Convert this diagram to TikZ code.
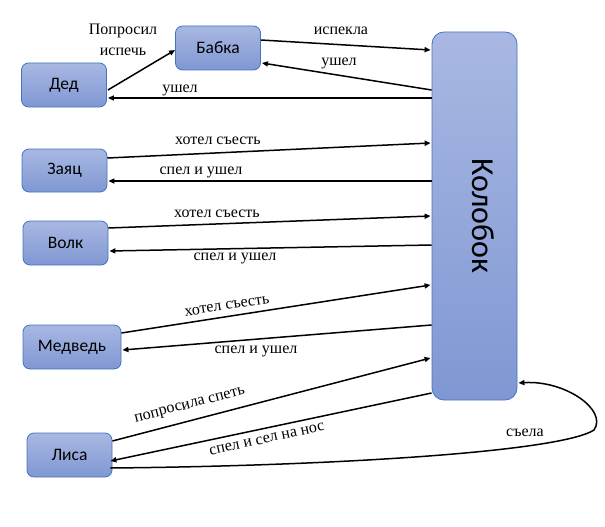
\documentclass[tikz,border=0pt]{standalone}
\usepackage{fontspec}
\setmainfont{Liberation Serif}
\newfontfamily\nodefont{Carlito}
\usetikzlibrary{calc,arrows.meta}
\definecolor{boxtop}{HTML}{A9B8E2}
\definecolor{boxbot}{HTML}{7F97D3}
\definecolor{boxedge}{HTML}{4472C4}
\tikzset{
  box/.style={draw=boxedge, line width=0.8pt, rounded corners=7pt, top color=boxtop, bottom color=boxbot,
    minimum width=85pt, minimum height=44pt, inner sep=0pt, font=\nodefont\fontsize{17.5}{20}\selectfont},
  arr/.style={-{Triangle[length=6pt,width=5pt]}, line width=1.5pt},
  lbl/.style={font=\fontsize{16}{18}\selectfont, inner sep=0pt}
}
\begin{document}
\begin{tikzpicture}[x=1pt,y=-1pt]
\useasboundingbox (0,0) rectangle (605,527);
\node[box] (ded) at (64,85) {Дед};
\node[box] (babka) at (218,48) {Бабка};
\node[box, minimum height=368pt, rounded corners=12pt] (kol) at (474.5,216) {};
\node[font=\nodefont\fontsize{32}{36}\selectfont, rotate=-90] (koltext) at ($(kol.center)+(9,0)$) {Колобок};
\node[box, minimum height=43pt] (zayac) at (64.5,170.5) {Заяц};
\node[box] (volk) at (65.5,243) {Волк};
\node[box, minimum width=98pt] (medv) at (72,347) {Медведь};
\node[box] (lisa) at (69.5,455) {Лиса};

% Дед -> Бабка
\draw[arr] ($(ded.east)+(1,5)$) -- ($(babka.west)+(0,2)$);
\node[lbl, align=center] (l1) at (123,40) {Попросил\\[3pt]испечь};
% Бабка <-> Колобок
\draw[arr] ($(babka.east)+(0,-8)$) -- ($(kol.west)+(-1,-166)$);
\node[lbl] (l2) at (341,31) {испекла};
\draw[arr] ($(kol.west)+(0,-126)$) -- ($(babka.east)+(1,15)$);
\node[lbl] (l3) at (339,63) {ушел};
% Колобок -> Дед
\draw[arr] ($(kol.west)+(0,-118)$) -- ($(ded.east)+(1,13)$);
\node[lbl] (l4) at (180,90) {ушел};
% Заяц
\draw[arr] ($(zayac.east)+(0,-12.5)$) -- ($(kol.west)+(-1,-73)$);
\node[lbl] (l5) at (218,141) {хотел съесть};
\draw[arr] ($(kol.west)+(0,-35)$) -- ($(zayac.east)+(1,10.5)$);
\node[lbl] (l6) at (201,172) {спел и ушел};
% Волк
\draw[arr] ($(volk.east)+(0,-15)$) -- ($(kol.west)+(-1,0)$);
\node[lbl] (l7) at (217,214) {хотел съесть};
\draw[arr] ($(kol.west)+(0,29)$) -- ($(volk.east)+(1,8)$);
\node[lbl] (l8) at (235,258) {спел и ушел};
% Медведь
\draw[arr] ($(medv.east)+(0,-14)$) -- ($(kol.west)+(-1,69)$);
\node[lbl, rotate=8.8] (l9) at (227,306) {хотел съесть};
\draw[arr] ($(kol.west)+(0,109)$) -- ($(medv.east)+(1,3)$);
\node[lbl] (l10) at (256,351) {спел и ушел};
% Лиса
\draw[arr] ($(lisa.east)+(0,-14)$) -- ($(kol.west)+(-1,142)$);
\node[lbl, rotate=14.6] (l11) at (190,406) {попросила спеть};
\draw[arr] ($(kol.west)+(0,177)$) -- ($(lisa.east)+(-2,6)$);
\node[lbl, rotate=12.5] (l12) at (267,439) {спел и сел на нос};
\coordinate (loopr) at (594,430);
\draw[arr] ($(lisa.east)+(-2,13)$) .. controls (330,466) and (560,452) .. (loopr)
  .. controls (608,410) and (565,380) .. ($(kol.east)+(1,167)$);
\node[lbl] (l13) at (525,433) {съела};
\end{tikzpicture}
\end{document}
